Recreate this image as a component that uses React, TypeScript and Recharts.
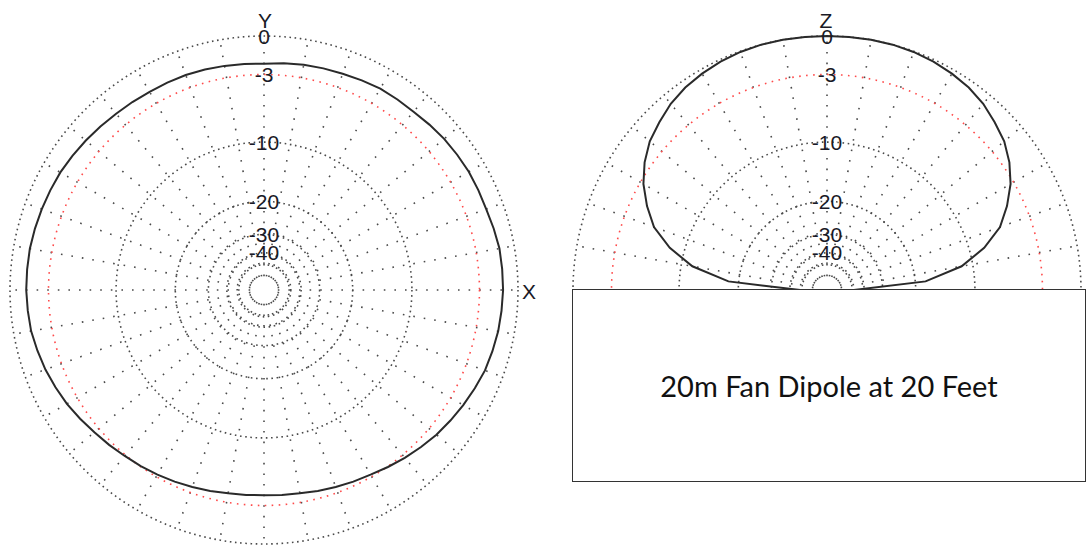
import { PolarAngleAxis, PolarGrid, PolarRadiusAxis, Radar, RadarChart } from "recharts";

// ARRL log-periodic radius scale: every 2 dB down shrinks the radius by 0.89
const toRadius = (db: number) => Math.pow(0.89, -db / 2);
const toDb = (r: number) => Math.round((-2 * Math.log(r)) / Math.log(0.89));

const RING_DB = [0, -10, -20, -30, -40, -50];
const MARK_DB = [-3];
const FLOOR_DB = -50;

// azimuth plane (XY), angles counter-clockwise from +X, 5 degree steps
const AZ_SPOKES = Array.from({ length: 36 }, (_, i) => i * 10);
const AZ_ANGLE = Array.from({ length: 72 }, (_, i) => i * 5);
const AZ_GAIN = [
  -1.1, -1.1, -1.1, -1.2, -1.3, -1.3, -1.3, -1.35, -1.4, -1.5, -1.6, -1.6,
  -1.6, -1.7, -1.8, -1.85, -1.9, -2.0, -2.1, -2.05, -2.0, -1.95, -1.9, -1.9,
  -1.9, -1.85, -1.8, -1.7, -1.6, -1.5, -1.4, -1.35, -1.3, -1.25, -1.2, -1.2,
  -1.2, -1.25, -1.3, -1.45, -1.6, -1.8, -2.0, -2.25, -2.5, -2.7, -2.9, -3.05,
  -3.2, -3.35, -3.5, -3.65, -3.8, -3.85, -3.9, -3.85, -3.8, -3.65, -3.5, -3.35,
  -3.2, -2.95, -2.7, -2.45, -2.2, -2.0, -1.8, -1.6, -1.4, -1.3, -1.2, -1.15,
];

// elevation plane (Z), 0 = horizon on the right
const EL_SPOKES = Array.from({ length: 19 }, (_, i) => i * 10);
const EL_ANGLE = [0, 5, 10, 15, 20, 25, 30, 35, 40, 45, 50, 55, 60, 65, 70, 75, 80, 85, 90,
  95, 100, 105, 110, 115, 120, 125, 130, 135, 140, 145, 150, 155, 160, 165, 170, 175, 180];
const EL_GAIN = [-50, -17.8, -11.5, -8.2, -5.9, -4.5, -3.3, -2.4, -1.7, -1.25, -0.8, -0.5, -0.3,
  -0.15, -0.05, 0, 0, 0, 0, 0, 0, 0, -0.05, -0.15, -0.3, -0.5, -0.8, -1.25, -1.7, -2.4, -3.3,
  -4.5, -5.9, -8.2, -11.5, -17.8, -50];

const TITLE = "20m Fan Dipole at 20 Feet";

const OUTER = 254;
const INNER = OUTER * toRadius(FLOOR_DB);
const R_DOMAIN: [number, number] = [toRadius(FLOOR_DB), 1];

const azData = AZ_ANGLE.map((angle, i) => ({ angle, r: toRadius(AZ_GAIN[i]) }));
const elData = EL_ANGLE.map((angle, i) => ({ angle, r: toRadius(EL_GAIN[i]) }));

const DOT = "#4a4a4a";
const INK = "#1a1a26";
const labelFont = "'Liberation Sans', Arial, sans-serif";

const ringTick = (props: any) => {
  const { x, y, payload } = props;
  const db = toDb(payload.value);
  if (db <= FLOOR_DB) return <g />;
  return (
    <text x={x} y={y} textAnchor="middle" dominantBaseline="central" fontSize={21}
      fontFamily={labelFont} fill={INK}>{db}</text>
  );
};

function PolarPlot({ data, spokes, span, width, height, cx, cy, axisLabels }: {
  data: { angle: number; r: number }[];
  spokes: number[];
  span: number;
  width: number;
  height: number;
  cx: number;
  cy: number;
  axisLabels: { text: string; x: number; y: number }[];
}) {
  return (
    <RadarChart width={width} height={height} data={data} cx={cx} cy={cy}
      innerRadius={INNER} outerRadius={OUTER} startAngle={0} endAngle={span}
      margin={{ top: 0, right: 0, bottom: 0, left: 0 }}>
      <PolarAngleAxis type="number" dataKey="angle" domain={[0, span]} allowDataOverflow
        tick={false} axisLine={false} tickLine={false} />
      <PolarRadiusAxis type="number" domain={R_DOMAIN} allowDataOverflow angle={90}
        orientation="middle" ticks={RING_DB.map(toRadius) as any} tick={ringTick} axisLine={false} />
      <PolarRadiusAxis radiusAxisId="mark" type="number" domain={R_DOMAIN} allowDataOverflow
        angle={90} orientation="middle" ticks={MARK_DB.map(toRadius) as any} tick={ringTick}
        axisLine={false} />
      <PolarGrid gridType="circle" polarAngles={spokes} polarRadius={[]} stroke={DOT}
        strokeWidth={1.6} strokeDasharray="1.6 9" />
      <PolarGrid gridType="circle" radialLines={false} stroke={DOT} strokeWidth={1.6}
        strokeDasharray="1.6 3.6" />
      <PolarGrid gridType="circle" radialLines={false} radiusAxisId="mark" stroke="#ff4a4a"
        strokeWidth={1.6} strokeDasharray="1.6 5.4" />
      <Radar dataKey="r" stroke="#2a2a2a" strokeWidth={2} fill="none" fillOpacity={0}
        dot={false} isAnimationActive={false} />
      {axisLabels.map((l) => (
        <text key={l.text} x={l.x} y={l.y} textAnchor="middle" dominantBaseline="central"
          fontSize={21} fontFamily={labelFont} fill={INK}>{l.text}</text>
      ))}
    </RadarChart>
  );
}

export default function App() {
  return (
    <div style={{ position: "absolute", left: 0, top: 0, width: 1088, height: 546, background: "#fff" }}>
      <div style={{ position: "absolute", left: 0, top: 0 }}>
        <PolarPlot data={azData} spokes={AZ_SPOKES} span={360} width={545} height={546}
          cx={264} cy={290}
          axisLabels={[{ text: "Y", x: 265, y: 20 }, { text: "X", x: 529, y: 291 }]} />
      </div>
      <div style={{ position: "absolute", left: 560, top: 0 }}>
        <PolarPlot data={elData} spokes={EL_SPOKES} span={180} width={528} height={300}
          cx={267} cy={290} axisLabels={[{ text: "Z", x: 266, y: 20 }]} />
      </div>
      <div style={{
        position: "absolute", left: 572, top: 289, width: 514, height: 193, boxSizing: "border-box",
        border: "1.5px solid #333", background: "#fff", display: "flex", alignItems: "center",
        justifyContent: "center", fontFamily: "Lato, 'Open Sans', sans-serif", fontSize: 29,
        color: "#111",
      }}>
        {TITLE}
      </div>
    </div>
  );
}
